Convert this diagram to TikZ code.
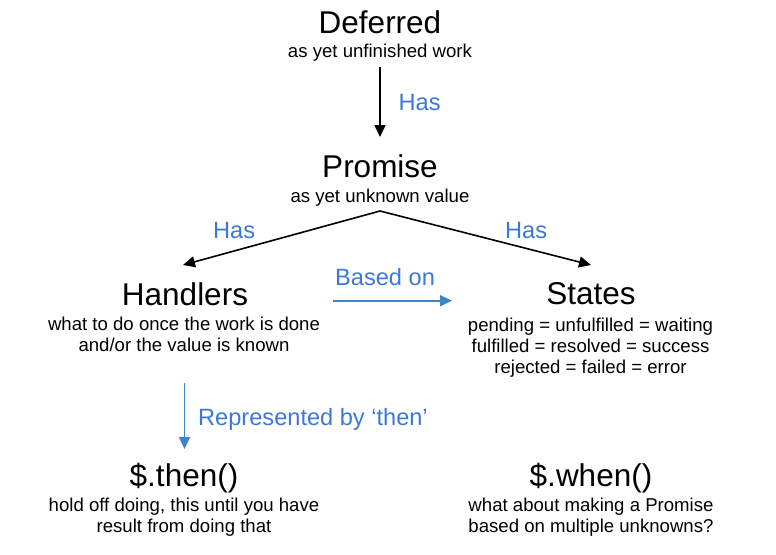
\documentclass[tikz,border=0pt]{standalone}
\usepackage{fontspec}
\setmainfont{Liberation Sans}
\usetikzlibrary{arrows.meta}
\definecolor{lblblue}{HTML}{3C78D8}
\definecolor{arrblue}{HTML}{3D85C6}
\tikzset{
  ttl/.style={anchor=base,inner sep=0pt,font=\fontsize{31.5}{36}\selectfont},
  sub/.style={anchor=base,inner sep=0pt,font=\fontsize{18.6}{21.5}\selectfont},
  lbl/.style={anchor=base west,inner sep=0pt,text=lblblue,font=\fontsize{23.6}{27}\selectfont},
  blk/.style={line width=1.6pt,-{Triangle[length=12pt,width=11pt]}},
  blu/.style={line width=1.8pt,arrblue,-{Triangle[length=12pt,width=11pt]}}
}
\begin{document}
\begin{tikzpicture}[x=1pt,y=-1pt]
\useasboundingbox (0,0) rectangle (776,554);
% Deferred
\node[ttl] (def) at (380,33) {Deferred};
\node[sub] (defs) at (380,57.5) {as yet unfinished work};
% Promise
\node[ttl] (pro) at (380,177) {Promise};
\node[sub] (pros) at (380,202) {as yet unknown value};
% Handlers
\node[ttl] (han) at (185,305) {Handlers};
\node[sub] (hans1) at (184,330) {what to do once the work is done};
\node[sub] (hans2) at (184,351.7) {and/or the value is known};
% States
\node[ttl] (sta) at (591,304) {States};
\node[sub] (stas1) at (590.5,331) {pending = unfulfilled = waiting};
\node[sub] (stas2) at (590.5,352.3) {fulfilled = resolved = success};
\node[sub] (stas3) at (590.5,373) {rejected = failed = error};
% then
\node[ttl] (thn) at (184,486.5) {\$.then()};
\node[sub] (thns1) at (184,511) {hold off doing, this until you have};
\node[sub] (thns2) at (184,532) {result from doing that};
% when
\node[ttl] (whn) at (591,486.5) {\$.when()};
\node[sub] (whns1) at (591,511) {what about making a Promise};
\node[sub] (whns2) at (591,532) {based on multiple unknowns?};
% arrow end points
\coordinate (a1s) at (380,67);
\coordinate (a1e) at (380,137);
\coordinate (pk) at (380,211);
\coordinate (hl) at (183,265);
\coordinate (sr) at (591,265);
\coordinate (bs) at (333,300.7);
\coordinate (be) at (452,300.7);
\coordinate (ts) at (184.5,383);
\coordinate (te) at (184.5,449);
% connectors
\draw[blk] (a1s) -- (a1e);
\draw[blk] (pk) -- (hl);
\draw[blk] (pk) -- (sr);
\draw[blu] (bs) -- (be);
\draw[blu] (ts) -- (te);
% labels
\node[lbl] (l1) at (398.5,110) {Has};
\node[lbl] (l2) at (213,238.3) {Has};
\node[lbl] (l3) at (505,238.3) {Has};
\node[lbl] (l4) at (335,285) {Based on};
\node[lbl] (l5) at (198,425) {Represented by ‘then’};
\end{tikzpicture}
\end{document}
